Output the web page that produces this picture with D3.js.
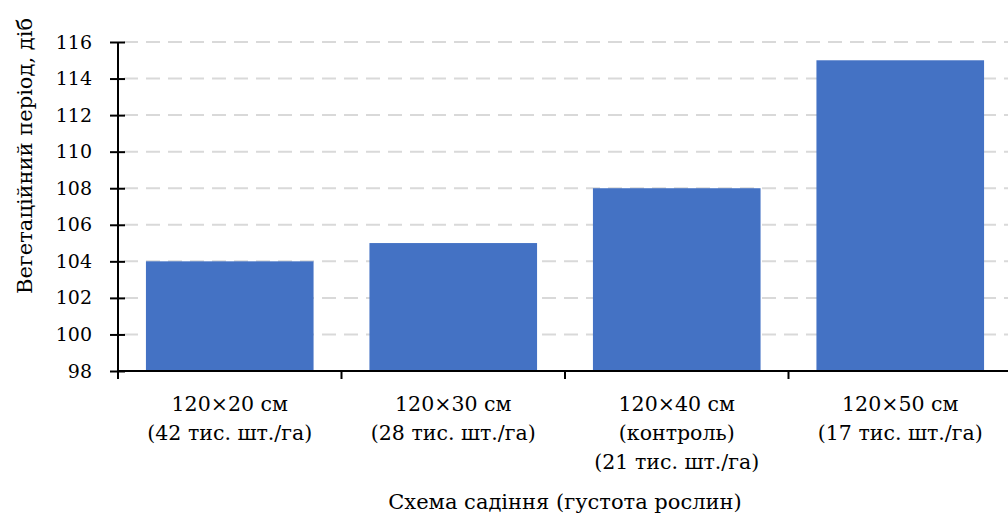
<!DOCTYPE html>
<html>
<head>
<meta charset="utf-8">
<script src="https://cdn.jsdelivr.net/npm/d3@7"></script>
<style>
  html, body { margin: 0; padding: 0; background: #fff; }
  svg { display: block; }
</style>
</head>
<body>
<svg id="chart" width="1008" height="515"></svg>
<script>
// Planting schemes (each label split into lines)
const categories = [
  ["120×20 см", "(42 тис. шт./га)"],
  ["120×30 см", "(28 тис. шт./га)"],
  ["120×40 см", "(контроль)", "(21 тис. шт./га)"],
  ["120×50 см", "(17 тис. шт./га)"]
];
// Growing season length, days
const values = [104, 105, 108, 115];
const yTicks = [98, 100, 102, 104, 106, 108, 110, 112, 114, 116];
const yTitle = "Вегетаційний період, діб";
const xTitle = "Схема садіння (густота рослин)";

const svg = d3.select("#chart");
const plotLeft = 118, plotRight = 1012, plotTop = 42, plotBottom = 371;
const FONT = "DejaVu Serif";

const x = d3.scaleBand()
  .domain(d3.range(categories.length))
  .range([plotLeft, plotRight])
  .paddingInner(0.25)
  .paddingOuter(0.125);

const y = d3.scaleLinear().domain([98, 116]).range([plotBottom, plotTop]);

// dashed gridlines
svg.append("g")
  .selectAll("line")
  .data(yTicks.filter(d => d !== 98))
  .join("line")
  .attr("x1", plotLeft + 6)
  .attr("x2", 1008)
  .attr("y1", d => y(d))
  .attr("y2", d => y(d))
  .attr("stroke", "#d9d9d9")
  .attr("stroke-width", 2)
  .attr("stroke-dasharray", "14,8");

// bars
svg.append("g")
  .selectAll("rect")
  .data(values)
  .join("rect")
  .attr("x", (d, i) => x(i))
  .attr("width", x.bandwidth())
  .attr("y", d => y(d))
  .attr("height", d => y(98) - y(d))
  .attr("fill", "#4472c4");

// y axis
const yAxis = svg.append("g")
  .attr("transform", `translate(${plotLeft},0)`)
  .call(d3.axisLeft(y).tickValues(yTicks).tickSize(8).tickSizeOuter(0).tickPadding(18));
yAxis.attr("font-family", FONT).attr("font-size", 19);
yAxis.select(".domain").attr("stroke", "#000").attr("stroke-width", 2)
  .attr("d", `M0,${plotTop}V${plotBottom + 8}`);
yAxis.selectAll(".tick line").attr("x1", -8).attr("x2", 7).attr("stroke", "#000").attr("stroke-width", 2);
yAxis.selectAll(".tick text").attr("fill", "#000");

// x axis line with boundary ticks between categories
const bounds = d3.range(categories.length + 1).map(i => plotLeft + i * x.step());
svg.append("line")
  .attr("x1", plotLeft).attr("x2", 1008)
  .attr("y1", plotBottom).attr("y2", plotBottom)
  .attr("stroke", "#000").attr("stroke-width", 2);
svg.append("g")
  .selectAll("line")
  .data(bounds.slice(1))
  .join("line")
  .attr("x1", d => d).attr("x2", d => d)
  .attr("y1", plotBottom).attr("y2", plotBottom + 8)
  .attr("stroke", "#000").attr("stroke-width", 2);

// category labels
const lab = svg.append("g")
  .selectAll("text")
  .data(categories)
  .join("text")
  .attr("text-anchor", "middle")
  .attr("font-size", 20.5)
  .attr("font-family", FONT)
  .attr("fill", "#000")
  .attr("x", (d, i) => x(i) + x.bandwidth() / 2)
  .attr("y", 411);
lab.selectAll("tspan")
  .data(d => d)
  .join("tspan")
  .attr("x", function () { return this.parentNode.getAttribute("x"); })
  .attr("dy", (d, i) => i === 0 ? 0 : 29)
  .text(d => d);

// axis titles
svg.append("text")
  .attr("transform", `translate(32,156) rotate(-90)`)
  .attr("text-anchor", "middle")
  .attr("font-size", 21)
  .attr("font-family", FONT)
  .attr("fill", "#000")
  .text(yTitle);

svg.append("text")
  .attr("x", 565)
  .attr("y", 509)
  .attr("text-anchor", "middle")
  .attr("font-size", 21)
  .attr("font-family", FONT)
  .attr("fill", "#000")
  .text(xTitle);
</script>
</body>
</html>
